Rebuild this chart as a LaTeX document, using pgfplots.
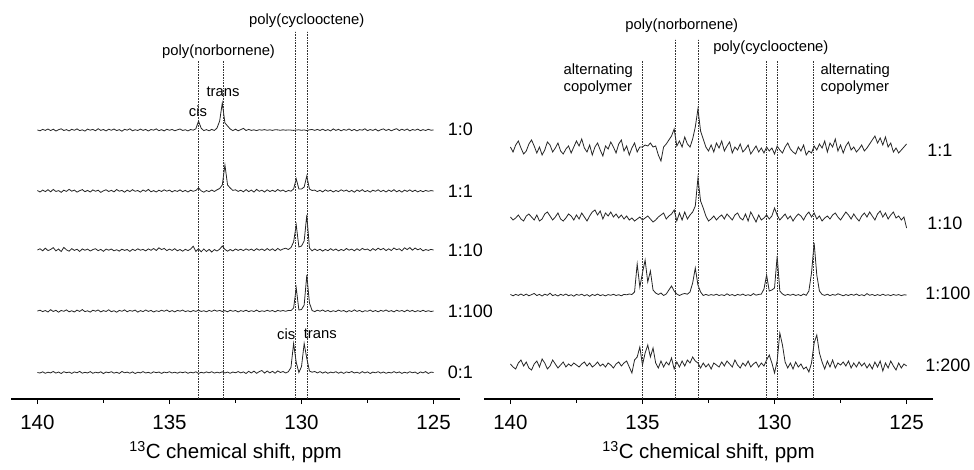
\documentclass[border=0pt]{standalone}
\usepackage{fontspec}
\setmainfont{Liberation Sans}
\usepackage{pgfplots}
\usepackage{pgfplotstable}
\pgfplotsset{compat=1.18}

% left panel: 1:0, 1:1, 1:10, 1:100, 0:1 (height above each baseline, pt)
\pgfplotstableread{
x a b c d e
140.0  0.0  0.5  0.0  0.0  0.0
139.9 -0.8 -1.0  1.2  0.8 -0.5
139.8  0.6  0.9 -0.8 -0.6  0.7
139.7 -0.4 -0.6  1.8  0.5 -0.8
139.6  1.0  1.3 -0.6 -1.0  0.3
139.5 -0.6 -0.8  0.5  1.3 -0.4
139.4  0.8  1.6  2.4 -0.5  1.0
139.3 -1.0 -0.5 -0.9  0.7 -0.6
139.2  0.3  0.4  1.0 -1.2  0.5
139.1  1.2 -1.3 -1.6  0.6 -1.0
139.0 -0.5  0.8  2.6 -0.3  0.8
138.9  0.4 -0.4  0.2  1.1 -0.2
138.8 -0.9  1.7 -1.2 -0.8  0.4
138.7  0.7 -0.2  1.4  0.3 -0.9
138.6 -0.3  0.9 -0.4 -1.0  0.6
138.5  1.1 -1.1  0.8  0.9 -0.3
138.4 -0.6  0.3 -1.5 -0.4  1.1
138.3  0.2  1.4  1.1  1.4 -0.7
138.2 -1.1 -0.7 -0.3 -0.6  0.2
138.1  0.9  0.6  0.9  0.2 -0.5
138.0 -0.2 -1.0 -1.0 -1.1  0.9
137.9  0.6  1.1  0.4  0.8 -0.8
137.8 -0.7 -0.3  1.3 -0.2  0.3
137.7  1.3  0.8 -0.7  1.0 -0.4
137.6 -0.4 -1.4  0.6 -0.9  0.7
137.5  0.5  0.2 -1.3  0.4 -1.1
137.4 -0.9  1.2  0.9 -0.5  0.5
137.3  0.8 -0.5 -0.2  1.2 -0.2
137.2 -0.3  0.7  1.0 -0.7  0.8
137.1  1.0 -0.9 -0.8  0.3 -0.6
137.0 -0.6  1.5  0.3 -1.2  0.2
136.9  0.4 -0.2 -1.1  0.6 -0.9
136.8 -1.2  0.6  0.8 -0.3  1.0
136.7  0.7 -1.2 -0.4  1.1 -0.3
136.6 -0.2  0.9  0.5 -0.8  0.4
136.5  1.2 -0.6 -1.4  0.5 -0.7
136.4 -0.8  1.3  0.7 -0.2  0.6
136.3  0.3 -0.3 -0.6  0.9 -1.0
136.2 -0.5  0.5  1.2 -1.1  0.3
136.1  0.9 -1.1 -0.2  0.4 -0.4
136.0 -0.4  1.0  0.6 -0.6  0.9
135.9  0.6 -0.4 -0.9  1.0 -0.5
135.8 -1.0  1.6  1.1 -0.4  0.2
135.7  0.5 -0.8 -0.3  0.6 -0.8
135.6 -0.2  0.4  1.5 -1.0  0.7
135.5  1.1 -1.0 -0.5  0.3 -0.2
135.4 -0.7  0.8  2.2 -0.5  0.5
135.3  0.4 -0.5  0.4  0.8 -0.9
135.2 -0.9  1.2  1.6 -0.3  0.4
135.1  0.8 -0.2 -0.6  1.0 -0.3
135.0 -0.3  0.9  0.9 -0.7  0.8
134.9  0.6 -0.9 -0.4  0.4 -0.5
134.8 -0.8  0.5  1.3 -0.9  0.3
134.7  0.2 -0.4 -0.8  0.6 -0.7
134.6  1.0  1.1  0.5 -0.2  0.5
134.5 -0.5 -0.7 -1.2  0.9 -0.2
134.4  0.3  0.6  0.7 -0.6  0.6
134.3 -0.9 -1.0 -0.6  0.3 -0.8
134.2  0.5  0.8  0.9 -0.8  0.3
134.1 -0.2 -0.3  3.8  0.5 -0.4
134.0  1.2  0.6 -1.4 -0.4  0.7
133.9  9.0  3.0  1.2  0.8 -0.9
133.8  1.8  0.2 -1.8 -0.5  0.2
133.7 -0.6 -1.2  1.0  0.3 -0.5
133.6  0.4  0.5 -1.5 -0.8  0.6
133.5 -0.8 -0.6  0.6  0.6 -0.3
133.4  0.6  1.0 -2.0 -0.4  0.8
133.3 -0.5 -0.5  0.4  0.9 -0.6
133.2  2.0  1.2 -1.0 -0.2  0.3
133.1  9.0  2.5  0.8  0.6 -0.4
133.0 27.0  6.0  4.0 -0.5  0.7
132.9  7.0 26.0  0.6  0.4 -0.5
132.8  4.0  6.0 -1.2 -0.8  0.4
132.7  1.0  3.0  0.5  0.7 -0.8
132.6 -0.6  0.6 -0.9 -0.3  0.5
132.5  0.8  1.2  1.0  0.5 -0.3
132.4 -0.8 -0.4 -0.4 -0.9  0.9
132.3  0.4  0.8  0.8  0.4 -0.4
132.2  1.6 -0.8 -0.6 -0.4  0.6
132.1 -0.5  1.4  1.1  0.8 -1.0
132.0  0.6 -0.6 -0.3 -0.6  1.2
131.9 -0.4  0.9  0.9  0.3 -0.5
131.8  0.2 -1.1 -0.7 -0.5  1.4
131.7 -0.6  1.6  1.3  0.9 -0.8
131.6  0.3 -0.3 -0.2 -0.7  0.9
131.5 -0.2  0.8  1.0  0.2  2.0
131.4  0.4 -1.0 -0.6 -0.4 -0.6
131.3 -0.3  1.2  1.4  0.7  1.5
131.2  0.2 -0.5 -0.4 -0.3 -0.4
131.1 -0.4  0.7  1.2  0.5  1.2
131.0  0.3 -0.6 -0.8 -0.8 -0.7
130.9  0.1  1.5  1.6  0.6  1.6
130.8 -0.3 -0.2 -0.3 -0.2  0.0
130.7  0.2  1.0  1.0  0.5  1.0
130.6 -0.2 -0.8  1.8 -0.3 -0.5
130.5  0.1  0.6  0.5  0.6  0.8
130.4 -0.1 -0.2  2.4  0.4  5.0
130.3 -0.4  2.0  8.0  3.0 29.0
130.2  0.0 12.0 25.0 23.0 10.0
130.1  0.2  2.0  3.0  1.0  0.0
130.0 -0.3  2.0  4.0  1.5  6.0
129.9  0.1  4.0  9.0  6.0 29.0
129.8 -0.6 15.0 35.0 36.0 14.0
129.7  0.2  2.0  2.0  8.0  1.5
129.6  0.5  0.5 -0.8  0.5  0.3
129.5 -0.4  0.9  1.0 -0.6  1.0
129.4  0.6 -0.6 -0.6  0.8 -0.4
129.3 -0.5  0.7  0.8 -0.2  0.9
129.2  0.8 -0.9 -1.1  1.0 -0.6
129.1 -0.6  1.1  0.6 -0.5  0.7
129.0  0.4 -0.3 -0.7  0.6 -0.8
128.9 -0.9  0.8  1.3 -0.8  0.4
128.8  1.1 -1.0 -0.4  0.3 -0.3
128.7 -0.4  0.5  1.0 -0.6  0.8
128.6  0.7 -0.6 -0.9  0.9 -0.7
128.5 -0.8  1.2  0.6 -0.3  0.5
128.4  0.5 -0.2 -0.6  0.5 -0.9
128.3 -0.3  0.9  1.5 -1.0  0.6
128.2  1.0 -0.8 -0.2  0.4 -0.2
128.1 -0.6  0.6  0.9 -0.5  1.0
128.0  0.6 -1.2 -0.8  1.1 -0.5
127.9 -0.9  1.0  1.2 -0.4  0.3
127.8  0.4 -0.4 -0.5  0.6 -0.8
127.7 -0.2  1.3  1.6 -0.9  0.9
127.6  1.2 -0.7  0.2  0.3 -0.4
127.5 -0.7  0.5  1.0 -0.3  0.6
127.4  0.5 -1.1 -0.9  0.9 -1.0
127.3 -0.4  0.8  1.4 -0.6  0.4
127.2  0.9 -0.3 -0.3  0.5 -0.3
127.1 -1.0  1.2  1.8 -0.8  0.8
127.0  0.3 -0.6  0.2  0.6 -0.6
126.9  1.1  0.7  1.6 -0.3  0.5
126.8 -0.5 -1.0 -0.6  1.0 -0.8
126.7  0.7  0.9  1.2 -0.5  0.2
126.6 -0.8 -0.5 -0.5  0.4 -0.5
126.5  0.4  1.3  2.0 -0.9  0.9
126.4  1.3 -0.8  0.3  0.8 -0.4
126.3 -0.6  0.6  1.2 -0.3  0.6
126.2  0.8 -1.1 -0.8  0.5 -0.9
126.1 -0.4  0.9  2.2 -0.7  0.3
126.0  1.0 -0.4  0.4  0.9 -0.6
125.9 -0.9  1.1  2.4 -0.4  0.8
125.8  0.5 -0.6 -0.2  0.6 -0.3
125.7 -0.3  0.8  2.0 -0.8  0.5
125.6  0.9 -0.9  0.2  0.4 -1.2
125.5 -0.7  0.5  1.4 -0.5  0.6
125.4  0.4 -0.7 -0.8  0.8 -0.4
125.3 -0.5  0.6  0.5 -0.6  0.9
125.2  0.7 -0.3 -0.4  0.3 -1.0
125.1 -0.2  0.4  0.6 -0.5  0.4
125.0  0.0  0.0  0.0  0.0  0.0
}\leftdata

% right panel: 1:1, 1:10, 1:100, 1:200
\pgfplotstableread{
x p q r s
140.0  2  1  0.5  1
139.9 -3 -2 -0.8 -2
139.8  4  0  0.6 -4
139.7  8  3 -0.4  2
139.6  1 -1  1.0  5
139.5 -5 -3 -0.6 -1
139.4 -2  2  0.9  3
139.3  5  4 -0.8 -3
139.2  9  1  0.4 -5
139.1  3 -2  1.5  1
139.0 -4  3 -0.5  4
138.9  2 -3  0.6 -2
138.8 -6 -1 -1.0  6
138.7 -1  4  0.8  2
138.6  7  6 -0.3 -4
138.5  4  2  1.8 -1
138.4 -3 -2 -0.6  5
138.3  1  1  0.4  1
138.2  6  5 -1.0 -3
138.1 -2 -1  0.7  0
138.0 -5 -3 -0.4  3
137.9  0  0  1.0 -2
137.8  3  4 -0.7  1
137.7 -4  2  0.3 -1
137.6  2 -2 -1.2  2
137.5  8  3  0.6  0
137.4  3 -1 -0.3 -2
137.3 10  5  0.8  1
137.2  1  1 -0.8  3
137.1 -3 -3  0.4 -1
137.0  4  2 -1.3  2
136.9 -6  6  0.5 -2
136.8  2  8 -0.5  0
136.7  6  3  0.9  3
136.6 -1  7 -0.6 -1
136.5 -7 -1  0.3  1
136.4  3  5 -0.9 -2
136.3  0  2  0.4  2
136.2  7  6 -0.3  0
136.1  2  1  0.7 -3
136.0 -4  4 -0.5  1
135.9  5  0  0.3  3
135.8  9  3 -0.8 -1
135.7 -2 -1  0.6  2
135.6  3  2  0.2  4
135.5 -6 -2  1.0 -2
135.4  1  0  0.5 -8
135.3  6 -3  3.0  5
135.2 -3 -1 31.0  8
135.1  2  1  8.0 18
135.0  2 -2 22.0  0
134.9  4  0 35.0 12
134.8  3  2 13.0 20
134.7  6 -1 24.0  8
134.6  2 -4  5.0 17
134.5  3 -2  2.0  2
134.4 -6  1  0.5 -3
134.3 -12 3  2.0  4
134.2  2  5 -0.5 -2
134.1  5 -1  1.0  3
134.0  9  2  5.0  0
133.9 13  4  9.0  7
133.8 20  8  4.0 -4
133.7  3 -3  1.0  3
133.6  8  5 -0.5 -2
133.5  2 -2  0.8  4
133.4 12  6  1.5 -1
133.3  5 -1  0.8  5
133.2  2  3  3.0  2
133.1 10  6 12.0  8
133.0 22 12 27.0  4
132.9 40 40 10.0  2
132.8 18 17  3.0 -3
132.7 10 10 -0.5  2
132.6  2  2  0.6 -2
132.5 -2 -3 -0.4  1
132.4  4 -1  0.4 -4
132.3 -3  2 -0.3  2
132.2  6 -2  0.8  0
132.1  1  1 -0.5 -2
132.0  8  3  0.3  3
131.9 -2 -1 -0.6 -1
131.8  3  4  1.2  4
131.7  7  1 -0.4  1
131.6 -4 -2  0.5 -2
131.5  2  3 -0.8  5
131.4 -1  5  0.6  0
131.3  5  0 -0.3 -3
131.2 -3 -2  0.9  2
131.1  0  4 -0.5 -1
131.0  4 -3  0.3  4
130.9 -5  6 -0.6 -2
130.8 -1  1  1.4  1
130.7  3 -4 -0.2  3
130.6 -3  3  0.6 -2
130.5  1 -2  0.9  2
130.4 -4  0  6.0 -1
130.3  2  3 20.0  5
130.2 -2 -1  4.0 10
130.1  1  2  5.0  2
130.0 -5 10  7.0 -8
129.9  3  3 39.0  4
129.8 -1 -2  4.0 32
129.7 -4  1  1.0 20
129.6  2  4 -0.4  3
129.5  6 -1  0.6 -3
129.4  0  2 -0.3  2
129.3 -3 -3  0.8 -4
129.2 -5  1 -0.5  3
129.1  2  4  0.4 -2
129.0 -2  2 -0.7  1
128.9  4 -2  1.0 -4
128.8 -6  3 -0.3 -2
128.7 -2  6  4.0 -7
128.6 -4  1 22.0  2
128.5  3  5 52.0 22
128.4 -1 -1 20.0 30
128.3  5  2  4.0 12
128.2  1 -3  0.5  3
128.1  8  0 -0.4 -4
128.0 -3  2  0.8  4
127.9  6 -1 -0.6 -2
127.8  2  3  0.5  5
127.7 10  5 -0.3 -3
127.6 -2  1  1.2  2
127.5  4 -2  0.3  0
127.4 -4  2 -0.8  3
127.3  3  6  0.4 -1
127.2  7  3 -0.5  4
127.1 -1 -1  0.7 -3
127.0  2  4 -0.3  2
126.9 -3  0  1.0 -2
126.8  0 -3 -0.6  3
126.7  4  2  0.3 -1
126.6 -2  5 -0.7  2
126.5  1  1  1.4 -3
126.4  5  6 -0.3  1
126.3  9  2  0.5 -4
126.2 13 -2 -0.6  3
126.1  6  4  0.4 -2
126.0 11  7 -0.5  4
125.9  4  1  0.8 -6
125.8 12  5 -0.4  2
125.7  2 -1  0.3 -3
125.6  6  3 -0.6  4
125.5 -3  6  0.5 -1
125.4  1  0 -0.3 -5
125.3 -4  2  0.4  2
125.2 -1 -2 -0.6 -3
125.1  2  1  0.2  1
125.0  5 -10 0.0 -1
}\rightdata

\newcommand{\annot}{\fontsize{14.8}{17.5}\selectfont}
\newcommand{\ratio}{\fontsize{18}{20}\selectfont}

\pgfplotsset{
  nmr/.style={
    scale only axis, width=449pt, height=399pt,
    xmin=124, xmax=141, x dir=reverse, ymin=0, ymax=399,
    axis x line=bottom, axis y line=none, ytick=\empty,
    axis line style={-, line width=1.4pt},
    xtick={125,130,135,140}, minor xtick={127.5,132.5,137.5},
    tick align=outside, major tick length=5pt, minor tick length=3.5pt,
    tick style={black, line width=1pt},
    xticklabel style={font=\fontsize{20.5}{21}\selectfont, yshift=-8pt},
    /pgf/number format/assume math mode=true,
    clip=false, no markers,
  },
}
\tikzset{
  trace/.style={black!85, line width=0.8pt},
  guide/.style={black!80, line width=0.6pt, densely dotted},
}

\begin{document}
\begin{tikzpicture}
\path[use as bounding box] (0,0) rectangle (974pt,-470pt);

% ---- left panel
\begin{axis}[nmr, at={(11pt,-399pt)}, anchor=south west]
\addplot[trace] table[x=x, y expr=\thisrow{a}+269] {\leftdata};
\addplot[trace] table[x=x, y expr=\thisrow{b}+208] {\leftdata};
\addplot[trace] table[x=x, y expr=\thisrow{c}+149] {\leftdata};
\addplot[trace] table[x=x, y expr=\thisrow{d}+88] {\leftdata};
\addplot[trace] table[x=x, y expr=\thisrow{e}+26.5] {\leftdata};
\draw[guide] (axis cs:133.92,0) -- (axis cs:133.92,338);
\draw[guide] (axis cs:132.97,0) -- (axis cs:132.97,338);
\draw[guide] (axis cs:130.24,0) -- (axis cs:130.24,368);
\draw[guide] (axis cs:129.78,0) -- (axis cs:129.78,368);
\node[font=\annot, inner sep=0pt] at (axis cs:129.8,378) {poly(cyclooctene)};
\node[font=\annot, inner sep=0pt] at (axis cs:133.14,347) {poly(norbornene)};
\node[font=\annot, inner sep=0pt] at (axis cs:132.97,307) {trans};
\node[font=\annot, inner sep=0pt] at (axis cs:133.92,288) {cis};
\node[font=\annot, inner sep=0pt] at (axis cs:130.58,65) {cis};
\node[font=\annot, inner sep=0pt] at (axis cs:129.29,65) {trans};
\node[font=\ratio, inner sep=0pt, anchor=west] at (axis cs:124.47,269.5) {1:0};
\node[font=\ratio, inner sep=0pt, anchor=west] at (axis cs:124.47,208) {1:1};
\node[font=\ratio, inner sep=0pt, anchor=west] at (axis cs:124.47,149) {1:10};
\node[font=\ratio, inner sep=0pt, anchor=west] at (axis cs:124.47,88) {1:100};
\node[font=\ratio, inner sep=0pt, anchor=west] at (axis cs:124.47,26.5) {0:1};
\node[font=\fontsize{20.5}{22}\selectfont, inner sep=0pt] at (axis cs:132.5,-53) {\textsuperscript{13}C chemical shift, ppm};
\end{axis}

% ---- right panel
\begin{axis}[nmr, at={(484pt,-399pt)}, anchor=south west]
\addplot[trace] table[x=x, y expr=\thisrow{p}+250] {\rightdata};
\addplot[trace] table[x=x, y expr=\thisrow{q}+181] {\rightdata};
\addplot[trace] table[x=x, y expr=\thisrow{r}+104] {\rightdata};
\addplot[trace] table[x=x, y expr=\thisrow{s}+34] {\rightdata};
\draw[guide] (axis cs:134.99,0) -- (axis cs:134.99,338);
\draw[guide] (axis cs:133.77,0) -- (axis cs:133.77,360);
\draw[guide] (axis cs:132.90,0) -- (axis cs:132.90,360);
\draw[guide] (axis cs:130.32,0) -- (axis cs:130.32,338);
\draw[guide] (axis cs:129.90,0) -- (axis cs:129.90,338);
\draw[guide] (axis cs:128.53,0) -- (axis cs:128.53,338);
\node[font=\annot, inner sep=0pt] at (axis cs:133.51,373) {poly(norbornene)};
\node[font=\annot, inner sep=0pt] at (axis cs:130.14,351) {poly(cyclooctene)};
\node[font=\annot, inner sep=0pt, anchor=west, align=left] at (axis cs:137.99,320) {alternating\\copolymer};
\node[font=\annot, inner sep=0pt, anchor=west, align=left] at (axis cs:128.26,320) {alternating\\copolymer};
\node[font=\ratio, inner sep=0pt, anchor=west] at (axis cs:124.22,249) {1:1};
\node[font=\ratio, inner sep=0pt, anchor=west] at (axis cs:124.22,176) {1:10};
\node[font=\ratio, inner sep=0pt, anchor=west] at (axis cs:124.3,106) {1:100};
\node[font=\ratio, inner sep=0pt, anchor=west] at (axis cs:124.3,34) {1:200};
\node[font=\fontsize{20.5}{22}\selectfont, inner sep=0pt] at (axis cs:132.5,-53) {\textsuperscript{13}C chemical shift, ppm};
\end{axis}
\end{tikzpicture}
\end{document}
